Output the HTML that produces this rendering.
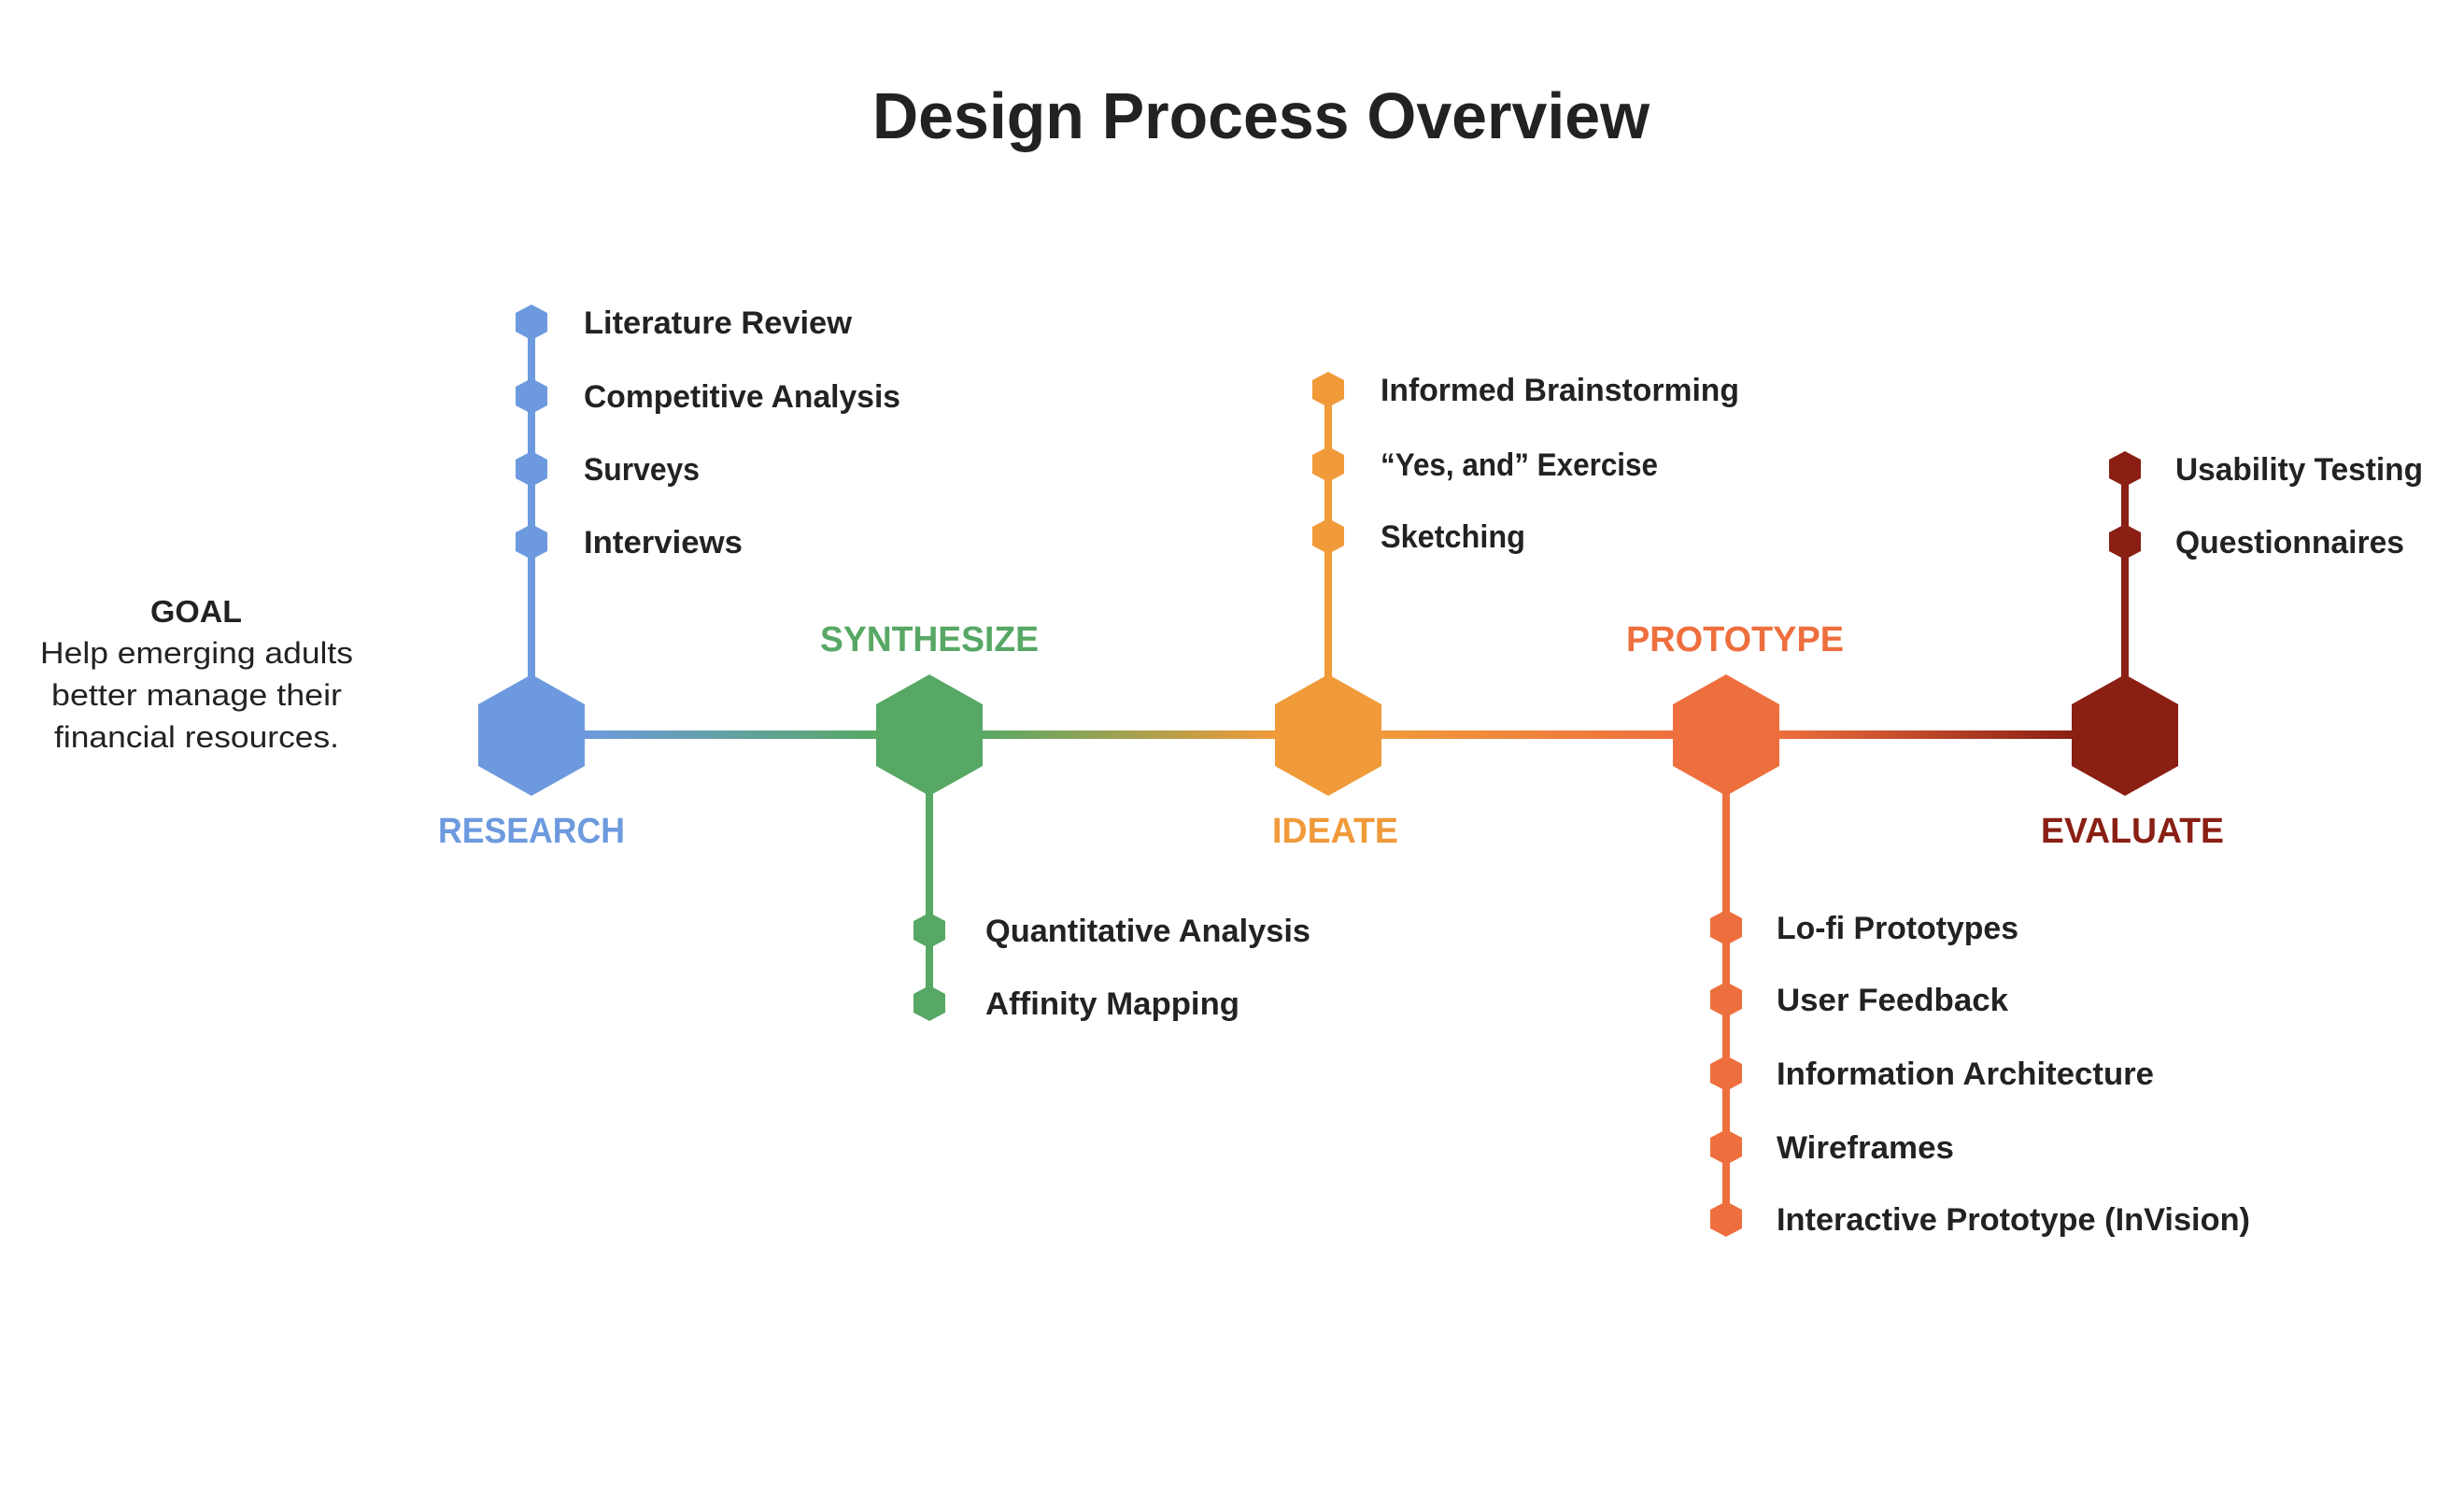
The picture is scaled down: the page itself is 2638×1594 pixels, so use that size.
<!DOCTYPE html>
<html><head><meta charset="utf-8"><style>html,body{margin:0;padding:0;background:#fff}svg{display:block}</style></head>
<body>
<svg width="2638" height="1594" viewBox="0 0 2638 1594" xmlns="http://www.w3.org/2000/svg" font-family="'Liberation Sans', sans-serif">
<defs>
<linearGradient id="g1" x1="626" x2="938" y1="0" y2="0" gradientUnits="userSpaceOnUse"><stop offset="0" stop-color="#6d9ade"/><stop offset="1" stop-color="#58a865"/></linearGradient>
<linearGradient id="g2" x1="1052" x2="1365" y1="0" y2="0" gradientUnits="userSpaceOnUse"><stop offset="0" stop-color="#58a865"/><stop offset="1" stop-color="#f09a3a"/></linearGradient>
<linearGradient id="g3" x1="1479" x2="1792" y1="0" y2="0" gradientUnits="userSpaceOnUse"><stop offset="0" stop-color="#f09a3a"/><stop offset="1" stop-color="#ee6f3e"/></linearGradient>
<linearGradient id="g4" x1="1905" x2="2218" y1="0" y2="0" gradientUnits="userSpaceOnUse"><stop offset="0" stop-color="#ee6f3e"/><stop offset="1" stop-color="#8a1f14"/></linearGradient>
<polygon id="H" points="0,-65 57,-33 57,33 0,65 -57,33 -57,-33"/>
<polygon id="h" points="0,-19 17,-10 17,10 0,19 -17,10 -17,-10"/>
</defs>
<text x="934" y="148" font-size="70" font-weight="bold" fill="#222" textLength="832" lengthAdjust="spacingAndGlyphs">Design Process Overview</text>

<text x="161" y="666" font-size="33" font-weight="bold" fill="#222" textLength="98" lengthAdjust="spacingAndGlyphs">GOAL</text>
<g font-size="32" fill="#222">
<text x="43" y="710" textLength="335" lengthAdjust="spacingAndGlyphs">Help emerging adults</text>
<text x="55" y="755" textLength="311" lengthAdjust="spacingAndGlyphs">better manage their</text>
<text x="58" y="800" textLength="305" lengthAdjust="spacingAndGlyphs">financial resources.</text>
</g>

<rect x="600" y="782" width="400" height="9" fill="url(#g1)"/>
<rect x="995" y="782" width="430" height="9" fill="url(#g2)"/>
<rect x="1422" y="782" width="430" height="9" fill="url(#g3)"/>
<rect x="1848" y="782" width="430" height="9" fill="url(#g4)"/>

<rect x="565" y="345" width="8" height="440" fill="#6d9ade"/>
<rect x="991" y="787" width="8" height="287" fill="#58a865"/>
<rect x="1418" y="417" width="8" height="370" fill="#f09a3a"/>
<rect x="1844" y="787" width="8" height="517" fill="#ee6f3e"/>
<rect x="2271" y="502" width="8" height="285" fill="#8a1f14"/>

<use href="#H" x="569" y="787" fill="#6d9ade"/>
<use href="#H" x="995" y="787" fill="#58a865"/>
<use href="#H" x="1422" y="787" fill="#f09a3a"/>
<use href="#H" x="1848" y="787" fill="#ee6f3e"/>
<use href="#H" x="2275" y="787" fill="#8a1f14"/>

<g fill="#6d9ade"><use href="#h" x="569" y="345"/><use href="#h" x="569" y="424"/><use href="#h" x="569" y="502"/><use href="#h" x="569" y="580"/></g>
<g fill="#58a865"><use href="#h" x="995" y="996"/><use href="#h" x="995" y="1074"/></g>
<g fill="#f09a3a"><use href="#h" x="1422" y="417"/><use href="#h" x="1422" y="497"/><use href="#h" x="1422" y="574"/></g>
<g fill="#ee6f3e"><use href="#h" x="1848" y="993"/><use href="#h" x="1848" y="1070"/><use href="#h" x="1848" y="1149"/><use href="#h" x="1848" y="1228"/><use href="#h" x="1848" y="1305"/></g>
<g fill="#8a1f14"><use href="#h" x="2275" y="502"/><use href="#h" x="2275" y="580"/></g>

<g font-size="38" font-weight="bold">
<text x="469" y="902" fill="#6d9ade" textLength="200" lengthAdjust="spacingAndGlyphs">RESEARCH</text>
<text x="878" y="697" fill="#58a865" textLength="234" lengthAdjust="spacingAndGlyphs">SYNTHESIZE</text>
<text x="1362" y="902" fill="#f09a3a" textLength="135" lengthAdjust="spacingAndGlyphs">IDEATE</text>
<text x="1741" y="697" fill="#ee6f3e" textLength="233" lengthAdjust="spacingAndGlyphs">PROTOTYPE</text>
<text x="2185" y="902" fill="#8a1f14" textLength="196" lengthAdjust="spacingAndGlyphs">EVALUATE</text>
</g>

<g font-size="34" font-weight="bold" fill="#222">
<text x="625" y="357" textLength="287" lengthAdjust="spacingAndGlyphs">Literature Review</text>
<text x="625" y="436" textLength="339" lengthAdjust="spacingAndGlyphs">Competitive Analysis</text>
<text x="625" y="514" textLength="124" lengthAdjust="spacingAndGlyphs">Surveys</text>
<text x="625" y="592" textLength="170" lengthAdjust="spacingAndGlyphs">Interviews</text>

<text x="1055" y="1008" textLength="348" lengthAdjust="spacingAndGlyphs">Quantitative Analysis</text>
<text x="1055" y="1086" textLength="272" lengthAdjust="spacingAndGlyphs">Affinity Mapping</text>

<text x="1478" y="429" textLength="384" lengthAdjust="spacingAndGlyphs">Informed Brainstorming</text>
<text x="1478" y="509" textLength="297" lengthAdjust="spacingAndGlyphs">“Yes, and” Exercise</text>
<text x="1478" y="586" textLength="155" lengthAdjust="spacingAndGlyphs">Sketching</text>

<text x="1902" y="1005" textLength="259" lengthAdjust="spacingAndGlyphs">Lo-fi Prototypes</text>
<text x="1902" y="1082" textLength="248" lengthAdjust="spacingAndGlyphs">User Feedback</text>
<text x="1902" y="1161" textLength="404" lengthAdjust="spacingAndGlyphs">Information Architecture</text>
<text x="1902" y="1240" textLength="190" lengthAdjust="spacingAndGlyphs">Wireframes</text>
<text x="1902" y="1317" textLength="507" lengthAdjust="spacingAndGlyphs">Interactive Prototype (InVision)</text>

<text x="2329" y="514" textLength="265" lengthAdjust="spacingAndGlyphs">Usability Testing</text>
<text x="2329" y="592" textLength="245" lengthAdjust="spacingAndGlyphs">Questionnaires</text>
</g>
</svg>
</body></html>
